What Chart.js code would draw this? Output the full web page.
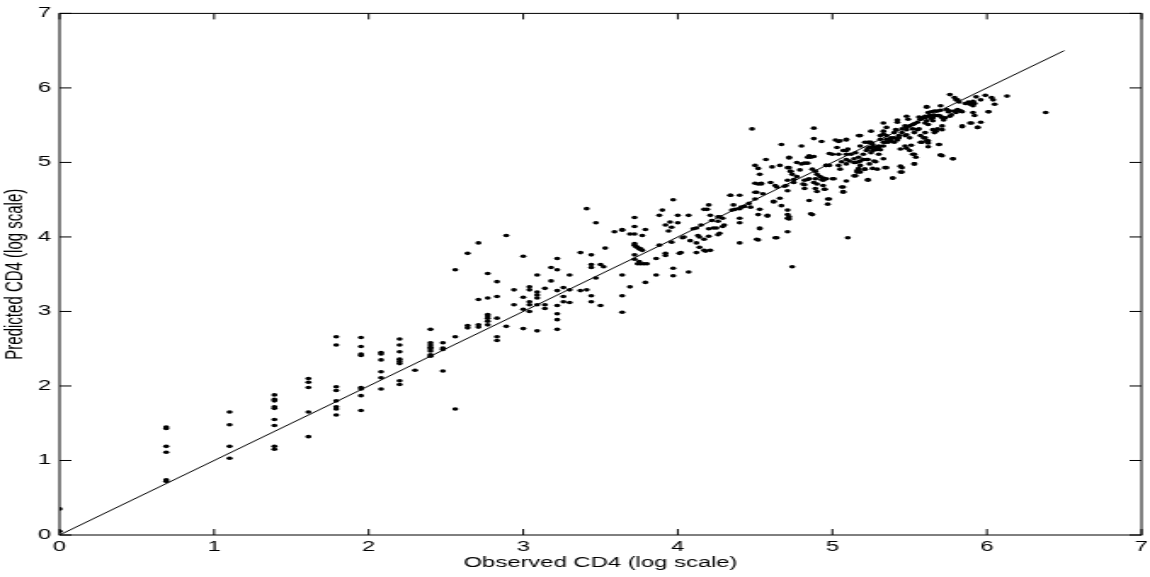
<!DOCTYPE html>
<html>
<head>
<meta charset="utf-8">
<script src="https://cdn.jsdelivr.net/npm/chart.js@4"></script>
<style>
  html, body { margin: 0; padding: 0; background: #fff; }
  /* the figure is stretched sideways, like the original export */
  #cd4 { width: 1150px !important; height: 577px !important; display: block; }
</style>
</head>
<body>
<canvas id="cd4" width="676" height="577" style="width:1150px;height:577px"></canvas>
<script>
// Observed vs predicted CD4, pairs of [observed, predicted] (log scale)
const lowCounts = [
    [0, 0.35], [0, 0.05],
    [0.69, 1.45], [0.69, 1.43], [0.69, 1.19], [0.69, 1.11], [0.69, 0.74], [0.69, 0.72],
    [1.10, 1.65], [1.10, 1.48], [1.10, 1.19], [1.10, 1.03],
    [1.39, 1.88], [1.39, 1.82], [1.39, 1.80], [1.39, 1.72], [1.39, 1.70], [1.39, 1.55], [1.39, 1.47], [1.39, 1.19], [1.39, 1.15],
    [1.61, 2.10], [1.61, 2.05], [1.61, 1.98], [1.61, 1.65], [1.61, 1.32],
    [1.79, 2.66], [1.79, 2.55], [1.79, 1.99], [1.79, 1.94], [1.79, 1.80], [1.79, 1.72], [1.79, 1.69], [1.79, 1.61],
    [1.95, 2.65], [1.95, 2.53], [1.95, 2.43], [1.95, 2.41], [1.95, 1.98], [1.95, 1.96], [1.95, 1.87], [1.95, 1.67],
    [2.08, 2.45], [2.08, 2.43], [2.08, 2.35], [2.08, 2.19], [2.08, 2.11], [2.08, 1.96],
    [2.20, 2.63], [2.20, 2.55], [2.20, 2.46], [2.20, 2.36], [2.20, 2.33], [2.20, 2.30], [2.20, 2.07], [2.20, 2.02],
    [2.30, 2.21],
    [2.40, 2.76], [2.40, 2.58], [2.40, 2.55], [2.40, 2.52], [2.40, 2.50], [2.40, 2.47], [2.40, 2.42], [2.40, 2.40],
    [2.48, 2.58], [2.48, 2.51], [2.48, 2.49], [2.48, 2.20]
];

const midCounts = [
    [2.56, 3.56], [2.56, 2.66], [2.56, 1.69],
    [2.64, 3.78], [2.64, 2.81], [2.64, 2.78],
    [2.71, 3.92], [2.71, 3.16], [2.71, 2.82], [2.71, 2.79],
    [2.77, 3.51], [2.77, 3.18], [2.77, 2.96], [2.77, 2.94], [2.77, 2.91], [2.77, 2.87], [2.77, 2.82],
    [2.83, 3.40], [2.83, 3.20], [2.83, 2.91], [2.83, 2.66], [2.83, 2.61],
    [2.89, 4.02], [2.89, 2.80],
    [2.94, 3.29], [2.94, 3.09],
    [3.00, 3.74], [3.00, 3.19], [3.00, 3.03], [3.00, 2.77],
    [3.04, 3.33], [3.04, 3.29], [3.04, 3.13], [3.04, 3.09], [3.04, 3.00],
    [3.09, 3.49], [3.09, 3.26], [3.09, 3.22], [3.09, 3.18], [3.09, 3.09], [3.09, 2.74],
    [3.14, 3.31], [3.14, 3.09], [3.14, 3.04],
    [3.18, 3.59], [3.18, 3.41],
    [3.22, 3.71], [3.22, 3.56], [3.22, 3.28], [3.22, 3.08], [3.22, 2.97], [3.22, 2.89], [3.22, 2.76],
    [3.26, 3.32], [3.26, 3.20], [3.26, 3.13],
    [3.30, 3.49], [3.30, 3.29], [3.30, 3.12],
    [3.37, 3.79], [3.37, 3.28],
    [3.41, 4.38], [3.44, 3.76], [3.44, 3.63], [3.44, 3.59], [3.44, 3.21], [3.44, 3.13], [3.41, 3.29],
    [3.47, 4.19], [3.47, 3.45], [3.50, 3.63], [3.52, 3.60], [3.50, 3.08], [3.53, 3.85],
    [3.59, 4.07], [3.64, 4.10], [3.64, 4.09], [3.64, 3.49], [3.64, 3.21], [3.64, 2.99],
    [3.69, 4.04], [3.72, 4.04], [3.72, 4.26], [3.72, 4.14], [3.72, 3.91], [3.72, 3.89], [3.74, 3.86], [3.76, 3.84],
    [3.72, 3.76], [3.72, 3.70], [3.74, 3.64], [3.76, 3.64], [3.80, 3.64], [3.69, 3.33],
    [3.77, 4.02], [3.79, 4.10], [3.79, 3.39], [3.86, 3.71], [3.86, 3.49], [3.88, 3.89], [3.88, 4.29], [3.90, 4.36],
    [3.92, 4.16], [3.92, 3.78], [3.94, 4.08], [3.95, 4.20], [3.96, 4.13], [3.97, 4.50], [3.96, 3.93], [3.97, 3.58], [3.97, 3.48],
    [4.00, 4.29], [4.00, 4.19], [4.01, 3.78], [4.03, 3.99], [4.07, 4.29], [4.07, 3.53], [4.08, 3.95],
    [4.10, 4.11], [4.12, 4.12], [4.12, 3.92], [4.12, 3.79], [4.14, 4.00], [4.14, 3.86], [4.15, 4.16],
    [4.17, 4.37], [4.19, 4.37], [4.17, 3.97], [4.17, 3.82], [4.18, 3.81], [4.20, 4.43], [4.20, 4.11], [4.20, 4.01],
    [4.21, 4.29], [4.22, 4.22], [4.21, 3.82], [4.23, 4.12], [4.26, 4.27], [4.26, 4.21], [4.27, 4.27], [4.29, 4.25],
    [4.27, 4.05], [4.29, 4.14], [4.34, 4.56], [4.35, 4.36], [4.36, 4.43], [4.37, 4.37],
    [4.40, 4.56], [4.40, 4.38], [4.40, 4.25], [4.40, 4.19], [4.40, 3.92], [4.43, 4.41], [4.46, 4.45], [4.47, 4.40],
    [4.25, 4.12], [4.26, 4.03], [4.13, 4.02], [4.04, 4.00], [4.02, 3.79], [3.73, 3.87], [3.75, 3.84], [3.77, 3.82],
    [3.75, 3.67], [3.78, 3.64], [3.92, 3.75], [4.30, 4.16]
];

const highCounts = [
    [4.48, 5.45], [4.50, 4.96], [4.52, 4.92], [4.50, 4.72], [4.50, 4.60], [4.50, 4.51], [4.52, 4.30], [4.52, 3.96],
    [4.53, 4.84], [4.54, 4.72], [4.53, 4.12], [4.53, 4.37], [4.57, 5.04], [4.58, 4.28], [4.60, 4.73], [4.61, 4.94],
    [4.62, 4.48], [4.64, 3.99], [4.64, 4.67], [4.67, 5.24], [4.66, 4.52], [4.67, 4.42], [4.69, 4.68],
    [4.71, 4.76], [4.71, 4.62], [4.71, 4.93], [4.72, 5.06], [4.71, 4.36], [4.71, 4.30], [4.71, 4.25], [4.71, 4.07],
    [4.73, 4.88], [4.74, 4.84], [4.75, 4.77], [4.75, 4.73], [4.74, 3.60], [4.77, 5.00], [4.77, 4.81],
    [4.79, 4.90], [4.80, 4.98], [4.80, 5.22], [4.82, 4.76], [4.82, 4.70], [4.82, 4.65], [4.84, 4.99], [4.86, 5.07],
    [4.85, 5.09], [4.84, 4.77], [4.85, 4.49], [4.87, 4.30], [4.87, 4.91], [4.88, 5.08], [4.88, 5.32], [4.88, 5.46],
    [4.88, 4.73], [4.89, 4.78], [4.90, 4.71], [4.89, 4.88], [4.90, 4.84], [4.92, 4.81], [4.89, 4.65], [4.90, 4.61],
    [4.93, 5.28], [4.93, 4.77], [4.94, 4.79], [4.96, 4.78], [4.95, 4.64], [4.94, 4.69], [4.96, 4.96], [4.98, 4.96],
    [4.97, 4.51], [4.97, 4.44], [4.98, 5.12], [5.00, 5.11], [5.01, 4.78], [5.02, 5.30], [5.04, 5.28], [5.03, 5.20],
    [5.04, 5.11], [5.04, 4.96], [5.05, 4.91], [5.07, 4.67], [5.07, 4.61], [5.09, 5.30], [5.09, 5.16], [5.09, 5.11],
    [5.09, 4.98], [5.09, 4.75], [5.10, 3.99],
    [4.52, 4.71], [4.54, 4.71], [4.63, 4.69], [4.70, 4.69], [4.81, 4.71], [4.85, 4.78], [4.94, 4.76], [4.95, 4.64],
    [5.00, 4.78], [5.06, 4.67], [5.14, 4.82], [5.16, 4.87], [4.34, 4.56], [4.41, 4.40], [4.51, 4.60], [4.55, 4.58],
    [4.62, 4.47], [4.72, 4.27], [4.72, 4.24], [4.86, 4.31], [4.98, 4.51], [5.07, 4.60], [4.53, 4.11], [4.51, 3.97],
    [4.63, 3.99], [4.58, 4.29], [4.66, 4.96], [4.72, 5.07], [4.72, 4.93], [4.73, 4.88], [4.82, 4.99], [4.84, 5.07],
    [4.96, 4.96], [5.06, 5.01], [5.11, 5.02], [5.14, 5.05], [5.17, 5.01], [5.18, 4.96], [5.23, 5.04], [5.24, 4.98],
    [5.05, 5.29], [5.09, 5.31], [5.17, 5.36]
];

const topCounts = [
    [5.18, 5.36], [5.18, 5.22], [5.15, 5.00], [5.18, 5.02], [5.20, 5.04], [5.16, 4.89], [5.15, 4.82], [5.18, 4.87],
    [5.17, 4.92], [5.21, 4.91], [5.23, 4.77], [5.25, 5.42], [5.21, 5.27], [5.23, 5.27], [5.24, 5.27], [5.25, 5.27],
    [5.22, 5.16], [5.23, 5.19], [5.25, 5.20], [5.27, 5.21], [5.25, 5.13], [5.26, 5.16], [5.28, 5.17], [5.30, 5.20],
    [5.26, 4.92], [5.28, 5.01], [5.29, 4.91], [5.31, 5.31], [5.31, 5.36], [5.33, 5.38], [5.33, 5.42], [5.30, 5.11],
    [5.31, 5.17], [5.33, 5.22], [5.34, 5.27], [5.33, 5.53], [5.33, 5.05], [5.35, 5.47], [5.35, 5.36], [5.35, 4.93],
    [5.36, 5.27], [5.37, 5.31], [5.38, 5.33], [5.39, 4.79], [5.40, 5.40], [5.41, 5.44], [5.42, 5.54], [5.42, 5.57],
    [5.40, 5.27], [5.42, 5.30], [5.43, 5.33], [5.44, 5.18], [5.44, 4.95], [5.45, 4.87], [5.45, 5.45], [5.47, 5.49],
    [5.48, 5.47], [5.47, 5.36], [5.48, 5.37], [5.50, 5.33], [5.47, 5.22], [5.48, 5.19], [5.50, 5.16], [5.48, 5.62],
    [5.49, 5.58], [5.51, 5.23], [5.53, 5.11], [5.54, 5.07], [5.53, 4.98], [5.52, 5.45], [5.53, 5.52], [5.55, 5.54],
    [5.53, 5.40], [5.55, 5.44], [5.56, 5.45], [5.56, 5.61], [5.57, 5.58], [5.58, 5.60], [5.60, 5.62], [5.57, 5.36],
    [5.59, 5.33], [5.60, 5.40], [5.58, 5.27], [5.61, 5.29], [5.62, 5.26], [5.62, 5.21], [5.60, 5.53], [5.61, 5.56],
    [5.62, 5.51], [5.61, 5.74], [5.62, 5.67], [5.63, 5.63], [5.64, 5.68], [5.64, 5.59], [5.65, 5.56], [5.66, 5.63],
    [5.66, 5.69], [5.65, 5.44], [5.66, 5.40], [5.67, 5.42], [5.68, 5.45], [5.68, 5.69], [5.69, 5.63], [5.70, 5.76],
    [5.70, 5.70], [5.69, 5.24], [5.70, 5.10], [5.71, 5.09], [5.71, 5.60], [5.72, 5.57], [5.74, 5.71], [5.75, 5.68],
    [5.71, 5.49], [5.71, 5.44], [5.76, 5.69], [5.77, 5.64], [5.79, 5.69], [5.80, 5.67], [5.76, 5.91], [5.78, 5.05],
    [5.79, 5.87], [5.81, 5.84], [5.82, 5.81], [5.83, 5.69], [5.84, 5.68], [5.84, 5.48], [5.86, 5.79], [5.88, 5.81],
    [5.89, 5.78], [5.90, 5.80], [5.91, 5.82], [5.92, 5.79], [5.89, 5.53], [5.91, 5.67], [5.92, 5.63], [5.93, 5.88],
    [5.94, 5.47], [5.96, 5.84], [5.96, 5.54], [5.99, 5.90], [6.01, 5.68], [6.03, 5.87], [6.04, 5.84], [6.05, 5.78],
    [6.13, 5.89], [6.38, 5.67],
    [5.07, 5.16], [5.10, 5.18], [5.12, 5.11], [5.15, 5.13], [5.17, 5.07], [5.20, 5.11], [5.22, 5.04], [5.24, 5.20],
    [5.26, 5.24], [5.28, 5.18], [5.30, 5.22], [5.33, 5.27], [5.35, 5.31], [5.38, 5.29], [5.40, 5.33], [5.43, 5.36],
    [5.45, 5.40], [5.48, 5.44], [5.50, 5.49], [5.52, 5.51], [5.09, 5.04], [5.14, 5.00], [5.17, 4.89], [5.21, 4.91],
    [5.23, 4.76], [5.27, 5.02], [5.34, 4.93], [5.39, 4.79], [5.44, 4.87], [5.45, 4.93], [5.53, 4.98], [5.52, 5.11],
    [5.57, 5.27], [5.60, 5.33], [5.62, 5.29], [5.69, 5.24], [5.70, 5.10], [5.78, 5.05], [5.84, 5.49], [5.90, 5.53],
    [5.94, 5.47], [6.01, 5.68], [5.91, 5.76], [5.80, 5.84], [5.81, 5.71], [5.83, 5.69], [5.57, 5.58], [5.60, 5.60],
    [5.62, 5.62], [5.65, 5.60], [5.68, 5.63], [5.70, 5.62], [5.73, 5.60], [5.76, 5.62], [5.61, 5.75]
];

// y = x reference line end points
const identityLine = [[0, 0], [6.5, 6.5]];

const axisTicks = [0, 1, 2, 3, 4, 5, 6, 7];

const toXY = pairs => pairs.map(p => ({ x: p[0], y: p[1] }));
const allPoints = toXY(lowCounts.concat(midCounts, highCounts, topCounts));

// box round the plot with inward ticks on all four sides (matlab look)
const boxTicks = {
    id: 'boxTicks',
    afterDraw(chart) {
        const ctx = chart.ctx;
        const a = chart.chartArea;
        const xs = chart.scales.x, ys = chart.scales.y;
        ctx.save();
        ctx.strokeStyle = '#000';
        ctx.lineWidth = 1;
        ctx.strokeRect(a.left, a.top, a.right - a.left, a.bottom - a.top);
        ctx.beginPath();
        axisTicks.forEach(v => {
            const px = xs.getPixelForValue(v);
            ctx.moveTo(px, a.bottom); ctx.lineTo(px, a.bottom - 6);
            ctx.moveTo(px, a.top); ctx.lineTo(px, a.top + 6);
            const py = ys.getPixelForValue(v);
            ctx.moveTo(a.left, py); ctx.lineTo(a.left + 7, py);
            ctx.moveTo(a.right, py); ctx.lineTo(a.right - 7, py);
        });
        ctx.stroke();
        ctx.restore();
    }
};

const tickFont = { family: 'Liberation Sans', size: 14 };

const ctx = document.getElementById('cd4').getContext('2d');
const cd4Chart = new Chart(ctx, {
    type: 'scatter',
    data: {
        datasets: [{
            label: 'y = x',
            data: toXY(identityLine),
            showLine: true,
            borderColor: '#000',
            borderWidth: 1,
            pointRadius: 0
        }, {
            label: 'CD4',
            data: allPoints,
            pointRadius: 1.8,
            pointBorderWidth: 0,
            pointBackgroundColor: '#000',
            backgroundColor: '#000'
        }]
    },
    options: {
        responsive: false,
        animation: false,
        devicePixelRatio: 1,
        layout: { padding: { top: 10, right: 5, left: 0, bottom: 0 } },
        plugins: { legend: { display: false }, tooltip: { enabled: false } },
        scales: {
            x: {
                type: 'linear', min: 0, max: 7,
                grid: { display: false, drawTicks: false },
                border: { display: false },
                afterFit: s => { s.height = 42; s.paddingRight = 0; s.paddingLeft = 0; },
                afterBuildTicks: s => { s.ticks = axisTicks.map(v => ({ value: v })); },
                ticks: { color: '#000', font: tickFont, padding: 4 },
                title: {
                    display: true, text: 'Observed CD4 (log scale)', color: '#000',
                    font: tickFont, padding: { top: 0, bottom: 5 }
                }
            },
            y: {
                type: 'linear', min: 0, max: 7,
                grid: { display: false, drawTicks: false },
                border: { display: false },
                afterFit: s => { s.width = 35; },
                afterBuildTicks: s => { s.ticks = axisTicks.map(v => ({ value: v })); },
                ticks: { color: '#000', font: tickFont, padding: 5 },
                title: {
                    display: true, text: 'Predicted CD4 (log scale)', color: '#000',
                    font: { family: 'Liberation Sans', size: 15 }, padding: { top: 0, bottom: 0 }
                }
            }
        }
    },
    plugins: [boxTicks]
});
</script>
</body>
</html>
